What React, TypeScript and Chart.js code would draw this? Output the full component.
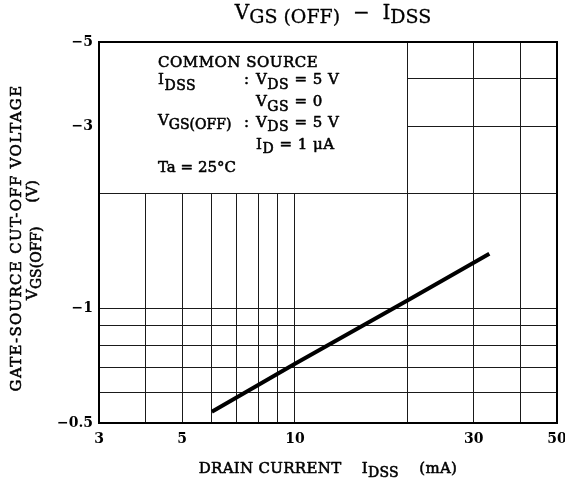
import React, { useEffect, useRef } from 'react';
import { Chart, registerables } from 'chart.js';

Chart.register(...registerables);

// ---- data ----
const drainCurrentMA = [6, 10, 20, 33];
const cutoffVoltageV = [-0.535, -0.715, -1.05, -1.39];
const xGridValues = [3, 4, 5, 6, 7, 8, 9, 10, 20, 30, 40, 50];
const xTickLabels = [3, 5, 10, 30, 50];
const yGridValues = [0.5, 0.6, 0.7, 0.8, 0.9, 1, 2, 3, 4, 5]; // |V|
const yTickLabels = [0.5, 1, 3, 5];

const FONT = '"DejaVu Serif", serif';
const INK = '#000';

type Run = [string, boolean]; // text, subscript?

function drawRuns(
  ctx: CanvasRenderingContext2D,
  runs: Run[],
  x: number,
  y: number,
  size: number,
  subSize: number,
  subDy: number,
  align: 'left' | 'center',
  stroke = 0.55,
  spacing = 0.5
) {
  ctx.textAlign = 'left';
  ctx.textBaseline = 'alphabetic';
  (ctx as any).letterSpacing = `${spacing}px`;
  let total = 0;
  const widths: number[] = [];
  for (const [t, sub] of runs) {
    ctx.font = `${sub ? subSize : size}px ${FONT}`;
    const w = ctx.measureText(t).width;
    widths.push(w);
    total += w;
  }
  let cx = align === 'center' ? x - total / 2 : x;
  ctx.lineWidth = stroke;
  ctx.strokeStyle = INK;
  ctx.lineJoin = 'round';
  runs.forEach(([t, sub], i) => {
    ctx.font = `${sub ? subSize : size}px ${FONT}`;
    ctx.fillText(t, cx, y + (sub ? subDy : 0));
    if (stroke > 0) ctx.strokeText(t, cx, y + (sub ? subDy : 0));
    cx += widths[i];
  });
  (ctx as any).letterSpacing = '0px';
}

const decorPlugin = {
  id: 'decor',
  beforeDatasetsDraw(chart: any) {
    const { ctx, chartArea, scales } = chart;
    const x20 = Math.floor(scales.x.getPixelForValue(20));
    const y2 = Math.floor(scales.y.getPixelForValue(2));
    ctx.save();
    ctx.fillStyle = '#fff';
    const l = Math.ceil(chartArea.left) + 1;
    const t = Math.ceil(chartArea.top) + 1;
    ctx.fillRect(l, t, x20 - l, y2 - t);
    ctx.restore();
  },
  afterDatasetsDraw(chart: any) {
    const { ctx, chartArea } = chart;
    ctx.save();
    ctx.strokeStyle = INK;
    ctx.lineWidth = 2;
    ctx.strokeRect(chartArea.left, chartArea.top, chartArea.right - chartArea.left, chartArea.bottom - chartArea.top);
    ctx.fillStyle = INK;

    // title
    drawRuns(ctx, [['V', false], ['GS (OFF)', true], ['  \u2212  ', false], ['I', false], ['DSS', true]], 333, 19, 20, 19, 4, 'center', 0.3, 0);

    // conditions box
    const L = 158;
    const C = 244;
    const R = 256;
    drawRuns(ctx, [['COMMON SOURCE', false]], L, 67, 15, 14, 6, 'left');
    drawRuns(ctx, [['I', false], ['DSS', true]], L, 84, 15, 14, 6, 'left');
    drawRuns(ctx, [[':', false]], C, 84, 15, 14, 6, 'left');
    drawRuns(ctx, [['V', false], ['DS', true], [' = 5 V', false]], R, 84, 15, 14, 5, 'left');
    drawRuns(ctx, [['V', false], ['GS', true], [' = 0', false]], R, 106, 15, 14, 5, 'left');
    drawRuns(ctx, [['V', false], ['GS(OFF)', true]], L, 125, 15, 14, 4, 'left', 0.55, 0);
    drawRuns(ctx, [[':', false]], C, 127, 15, 14, 5, 'left');
    drawRuns(ctx, [['V', false], ['DS', true], [' = 5 V', false]], R, 127, 15, 14, 4, 'left');
    drawRuns(ctx, [['I', false], ['D', true], [' = 1 \u03bcA', false]], R, 149, 15, 14, 4, 'left');
    drawRuns(ctx, [['Ta = 25\u00b0C', false]], L, 172, 15, 14, 5, 'left', 0.55, 0);

    // x axis title
    drawRuns(ctx, [['DRAIN CURRENT    ', false], ['I', false], ['DSS', true], ['    (mA)', false]], 328, 473, 15, 14, 4, 'center', 0.55, 0.3);

    // y axis title (rotated)
    ctx.save();
    ctx.translate(21, 238);
    ctx.rotate(-Math.PI / 2);
    drawRuns(ctx, [['GATE-SOURCE CUT-OFF VOLTAGE', false]], 0, 0, 15, 14, 4, 'center', 0.55, 1.3);
    ctx.restore();
    ctx.save();
    ctx.translate(37, 240);
    ctx.rotate(-Math.PI / 2);
    drawRuns(ctx, [['V', false], ['GS(OFF)', true], ['     (V)', false]], 0, 0, 15, 14, 4, 'center', 0.55, 0);
    ctx.restore();

    ctx.restore();
  },
};

export default function App() {
  const ref = useRef<HTMLCanvasElement | null>(null);
  useEffect(() => {
    if (!ref.current) return;
    const chart = new Chart(ref.current, {
      type: 'line',
      data: {
        datasets: [
          {
            data: drainCurrentMA.map((x, i) => ({ x, y: Math.abs(cutoffVoltageV[i]) })),
            borderColor: INK,
            borderWidth: 4,
            pointRadius: 0,
            tension: 0,
            fill: false,
          },
        ],
      },
      options: {
        responsive: false,
        animation: false,
        layout: { padding: { top: 42, right: 8, left: 0, bottom: 0 } },
        plugins: {
          legend: { display: false },
          title: { display: false },
          tooltip: { enabled: false },
        },
        scales: {
          x: {
            type: 'logarithmic',
            min: 3,
            max: 50,
            afterBuildTicks: (s: any) => {
              s.ticks = xGridValues.map((v) => ({ value: v }));
            },
            afterFit: (s: any) => {
              s.height = 63;
              s.paddingLeft = 0;
              s.paddingRight = 0;
            },
            ticks: {
              autoSkip: false,
              maxRotation: 0,
              padding: 8,
              color: INK,
              font: { family: FONT, size: 14, weight: 'bold' },
              callback: (v: any) => (xTickLabels.includes(Number(v)) ? String(v) : ''),
            },
            grid: { color: '#1a1a1a', lineWidth: 1, drawTicks: false },
            border: { display: false },
          },
          y: {
            type: 'logarithmic',
            min: 0.5,
            max: 5,
            afterBuildTicks: (s: any) => {
              s.ticks = yGridValues.map((v) => ({ value: v }));
            },
            afterFit: (s: any) => {
              s.width = 99;
              s.paddingTop = 0;
              s.paddingBottom = 0;
            },
            ticks: {
              autoSkip: false,
              padding: 6,
              color: INK,
              font: { family: FONT, size: 14, weight: 'bold' },
              callback: (v: any) => (yTickLabels.includes(Number(v)) ? '\u2212' + v : ''),
            },
            grid: { color: '#1a1a1a', lineWidth: 1, drawTicks: false },
            border: { display: false },
          },
        },
      } as any,
      plugins: [decorPlugin],
    });
    return () => chart.destroy();
  }, []);
  return (
    <div style={{ position: 'absolute', left: 0, top: 0, width: 565, height: 486, background: '#fff' }}>
      <canvas ref={ref} width={565} height={486} style={{ width: 565, height: 486, display: 'block' }} />
    </div>
  );
}
